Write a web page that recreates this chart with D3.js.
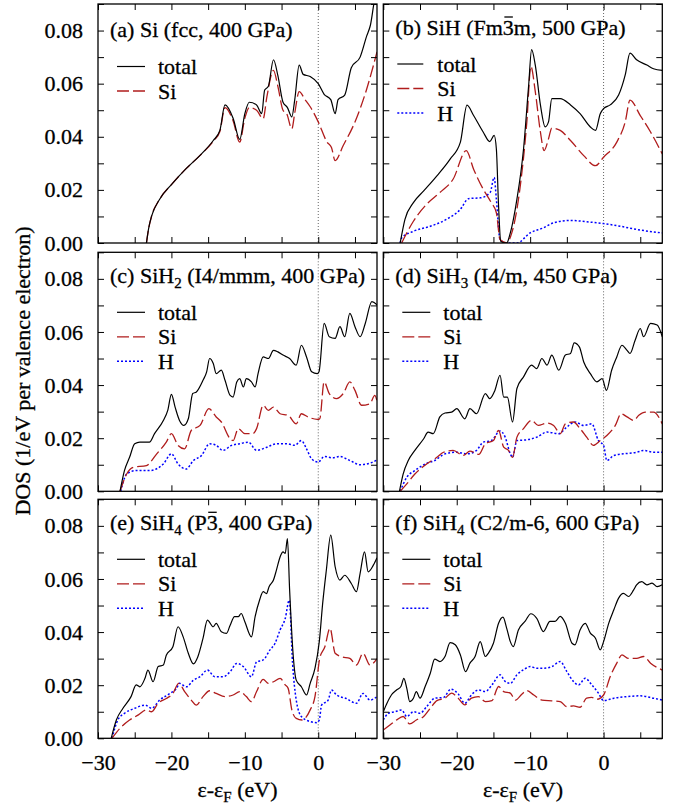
<!DOCTYPE html>
<html>
<head>
<meta charset="utf-8">
<script src="https://cdn.jsdelivr.net/npm/d3@7"></script>
<style>
  body { margin: 0; background: #fff; }
  svg text { font-family: "Liberation Serif", "Times New Roman", serif; font-size: 22px; fill: #000; stroke: #000; stroke-width: 0.3px; }
</style>
</head>
<body>
<svg id="chart" width="678" height="809"></svg>
<script>
// axis settings
var energyTicks = [-30, -25, -20, -15, -10, -5, 0, 5];
var energyLabels = [-30, -20, -10, 0];
var dosTicks = [0, 0.01, 0.02, 0.03, 0.04, 0.05, 0.06, 0.07, 0.08, 0.09];
var dosLabels = [0, 0.02, 0.04, 0.06, 0.08];

// (a) Si fcc 400 GPa  -- [energy (eV), DOS]
var aTotal = [[-23.4,0],[-23.1,0.0055],[-22.7,0.0101],[-21.6,0.0165],[-20,0.022],[-18,0.028],[-16.1,0.033],[-14.3,0.0386],[-13.4,0.0424],[-12.7,0.052],[-11.6,0.047],[-10.7,0.039],[-10,0.0487],[-9.4,0.053],[-8.4,0.052],[-7.7,0.0487],[-7.3,0.0576],[-6.8,0.059],[-6.1,0.069],[-5.5,0.063],[-4.8,0.053],[-4.2,0.051],[-3.6,0.0475],[-3.2,0.054],[-2.6,0.067],[-2.05,0.0635],[-1.1,0.0627],[0,0.060],[0.8,0.056],[1.7,0.054],[2.3,0.0487],[2.7,0.054],[3.6,0.0557],[4.5,0.066],[5.7,0.070],[6.6,0.078],[7.1,0.082],[7.7,0.092],[8,0.095]];
var aSi = [[-23.4,0],[-23.1,0.0055],[-22.7,0.0101],[-21.6,0.0165],[-20,0.022],[-18,0.028],[-16.1,0.033],[-14.3,0.0383],[-13.4,0.042],[-12.7,0.051],[-11.6,0.046],[-10.7,0.038],[-10,0.047],[-9.4,0.051],[-8.4,0.050],[-7.5,0.0468],[-7.0,0.055],[-6.1,0.065],[-5.5,0.059],[-4.8,0.050],[-4.3,0.0487],[-3.6,0.043],[-3.2,0.049],[-2.6,0.057],[-1.8,0.054],[-1.1,0.0513],[0,0.0456],[1.2,0.038],[1.8,0.036],[2.3,0.031],[3.4,0.0367],[5,0.0456],[6.6,0.058],[8,0.072]];

// (b) SiH Fm-3m 500 GPa
var bTotal = [[-27.7,0],[-27.05,0.0089],[-25.9,0.0152],[-24.5,0.0196],[-22.7,0.0253],[-20.9,0.0316],[-19.5,0.038],[-18.6,0.0519],[-17.7,0.048],[-16.4,0.0418],[-15.5,0.0382],[-14.9,0.0405],[-14.6,0.0354],[-14.3,0.0139],[-14.0,0.0006],[-13.2,0],[-12.7,0.0038],[-11.8,0.0165],[-10.9,0.0354],[-10.2,0.0595],[-9.8,0.0728],[-9.3,0.067],[-8.6,0.052],[-7.95,0.0437],[-7.5,0.0456],[-7.05,0.0544],[-5.9,0.0544],[-4.5,0.052],[-3.2,0.0487],[-1.8,0.0437],[-1.1,0.0424],[-0.45,0.0487],[0,0.0506],[0.9,0.052],[2.05,0.0557],[2.95,0.0633],[3.6,0.0715],[4.5,0.069],[5.9,0.067],[6.8,0.0656],[8,0.065]];
var bSi = [[-27.5,0],[-25.9,0.0082],[-24.1,0.0146],[-22.3,0.019],[-20.5,0.024],[-18.7,0.0348],[-17.7,0.0278],[-16.4,0.0203],[-15.3,0.0152],[-14.6,0.0114],[-14.1,0.0013],[-13.2,0],[-12.5,0.0038],[-11.4,0.0203],[-10.45,0.0456],[-9.9,0.0665],[-9.3,0.057],[-8.6,0.0418],[-8.1,0.0348],[-7.5,0.0392],[-7.05,0.0433],[-5.9,0.0424],[-4.5,0.0386],[-2.7,0.0329],[-1.1,0.0291],[0,0.0323],[1.8,0.038],[2.95,0.0456],[3.6,0.0538],[5,0.048],[6.4,0.0418],[8,0.0335]];
var bH = [[-27.7,0],[-27.5,0.0019],[-25.9,0.0044],[-23.6,0.0063],[-21.4,0.0089],[-19.5,0.0127],[-18.4,0.0167],[-16.8,0.017],[-15.45,0.019],[-14.9,0.0247],[-14.6,0.0165],[-14.1,0.0013],[-13.2,0],[-11.8,0],[-10,0.0038],[-8.2,0.0057],[-6.8,0.0076],[-4.5,0.0085],[-2.3,0.008],[0,0.0073],[2.3,0.0063],[4.5,0.0051],[8,0.0038]];

// (c) SiH2 I4/mmm 400 GPa
var cTotal = [[-27,0],[-26.4,0.0078],[-25.7,0.0128],[-25,0.0179],[-24.3,0.0185],[-23,0.0185],[-22.3,0.0217],[-21.1,0.0267],[-20.5,0.0305],[-20,0.0365],[-19.5,0.0317],[-18.9,0.0267],[-18.3,0.0248],[-17.7,0.0273],[-17.1,0.0368],[-16.6,0.0374],[-15.7,0.0418],[-15.2,0.045],[-14.8,0.05],[-14.3,0.0481],[-13.9,0.0443],[-13.2,0.0456],[-12.7,0.0418],[-12,0.0361],[-11.6,0.0355],[-11.1,0.0412],[-10.7,0.0424],[-10.2,0.0393],[-9.8,0.0424],[-9.1,0.0412],[-8.6,0.0393],[-8.2,0.0443],[-7.5,0.0506],[-6.8,0.05],[-6.1,0.0531],[-5.5,0.0525],[-4.8,0.0513],[-3.9,0.05],[-3,0.0475],[-2.3,0.055],[-1.6,0.0506],[-0.9,0.045],[-0.14,0.0443],[0.1,0.045],[0.8,0.0632],[1.5,0.0582],[2.3,0.0576],[2.95,0.062],[3.6,0.0582],[4.3,0.067],[5,0.062],[5.7,0.0582],[6.4,0.0632],[7.3,0.0714],[8,0.0702]];
var cSi = [[-27,0],[-26.1,0.0065],[-25.2,0.009],[-23.4,0.0097],[-22,0.0141],[-20.7,0.0185],[-20,0.0217],[-19.1,0.0173],[-18.2,0.016],[-17.3,0.0229],[-16.1,0.0248],[-14.9,0.0311],[-13.9,0.028],[-13.2,0.0261],[-12,0.0198],[-11.6,0.0191],[-10.9,0.0236],[-10,0.0217],[-8.9,0.0217],[-8.4,0.0236],[-7.5,0.0324],[-6.8,0.0305],[-6.1,0.0317],[-5.2,0.0292],[-4.1,0.0286],[-3,0.0254],[-2.3,0.0292],[-1.4,0.028],[-0.14,0.0271],[0.2,0.0273],[0.8,0.0412],[1.5,0.0368],[2.5,0.0349],[3.4,0.0368],[4.3,0.0412],[5,0.038],[5.9,0.0324],[7.05,0.033],[7.7,0.0361],[8,0.034]];
var cH = [[-26.9,0],[-26.1,0.0065],[-24.8,0.0078],[-23,0.0078],[-21.1,0.0103],[-20,0.0141],[-19.1,0.0103],[-18,0.0084],[-17,0.0116],[-15.9,0.0135],[-14.8,0.0179],[-13.9,0.0173],[-13,0.0154],[-11.8,0.0173],[-10.7,0.0179],[-9.5,0.0185],[-8.4,0.0154],[-7,0.0166],[-5.7,0.0179],[-4.3,0.0179],[-3.2,0.0173],[-2.3,0.0191],[-1.6,0.016],[-0.9,0.0122],[0,0.011],[0.8,0.0131],[2,0.0126],[2.95,0.0131],[4.3,0.0116],[5.7,0.01],[7.05,0.0106],[8,0.0118]];

// (d) SiH3 I4/m 450 GPa
var dTotal = [[-27.8,0],[-27.3,0.0065],[-26.6,0.0116],[-25.7,0.0154],[-24.5,0.0198],[-23.9,0.0223],[-23.2,0.0217],[-22.3,0.028],[-21.6,0.0295],[-20.7,0.0298],[-20,0.0311],[-18.9,0.0273],[-18.2,0.0311],[-17.3,0.0292],[-16.1,0.0368],[-15.5,0.0349],[-14.8,0.038],[-14.1,0.0437],[-13.6,0.0355],[-13.1,0.0355],[-12.4,0.0261],[-11.8,0.0387],[-10.9,0.0431],[-9.8,0.0475],[-9.1,0.0462],[-8.4,0.05],[-7.7,0.0475],[-7.05,0.0513],[-6.1,0.0456],[-5.2,0.0513],[-4.5,0.0519],[-4,0.0559],[-3.3,0.0544],[-2.7,0.0487],[-1.8,0.0443],[-0.9,0.0412],[-0.2,0.0424],[0.4,0.038],[1.1,0.0456],[1.8,0.0506],[2.5,0.055],[3.2,0.0531],[3.6,0.0519],[4.3,0.0569],[5,0.0613],[5.45,0.0582],[6.4,0.0632],[7.3,0.0626],[8,0.0582]];
var dSi = [[-27.7,0],[-26.8,0.0028],[-25.7,0.0065],[-24.1,0.0103],[-22.7,0.0128],[-21.8,0.0147],[-20.5,0.0154],[-19.1,0.0135],[-18.2,0.0151],[-17,0.0139],[-16.1,0.0179],[-15,0.0191],[-14.3,0.0229],[-13.6,0.0166],[-12.95,0.0154],[-12.4,0.0128],[-11.8,0.0204],[-10.9,0.0236],[-9.8,0.0267],[-8.9,0.0248],[-7.7,0.0257],[-6.8,0.0248],[-5.9,0.0217],[-5.2,0.0254],[-4.1,0.0261],[-3.2,0.0236],[-2.3,0.0204],[-1.4,0.0173],[-0.45,0.0191],[0.45,0.021],[1.6,0.0248],[2.4,0.0292],[3.2,0.028],[4.1,0.0267],[4.8,0.0286],[5.7,0.0298],[6.8,0.0298],[8,0.0254]];
var dH = [[-27.7,0],[-26.8,0.0053],[-25.7,0.0078],[-24.3,0.0103],[-23,0.0116],[-21.6,0.0141],[-20,0.0147],[-18.6,0.0141],[-17.3,0.0154],[-16.4,0.0185],[-15.3,0.0191],[-14.1,0.0227],[-13.4,0.0204],[-12.7,0.0141],[-12.4,0.0128],[-11.8,0.0191],[-10.45,0.0194],[-9.1,0.0204],[-7.7,0.0223],[-6.1,0.0217],[-5,0.0242],[-3.9,0.0261],[-2.7,0.0248],[-1.6,0.0254],[-0.7,0.0191],[0,0.0173],[0.45,0.0116],[1.4,0.0135],[2.7,0.0141],[4.5,0.0147],[5.45,0.0154],[6.8,0.0147],[8,0.0147]];

// (e) SiH4 P-3 400 GPa
var eTotal = [[-28.2,0],[-27.5,0.0069],[-26.6,0.0113],[-25.5,0.0157],[-24.8,0.0201],[-24.3,0.0194],[-23.6,0.0226],[-23.2,0.0257],[-22.5,0.0213],[-21.8,0.027],[-21.1,0.0276],[-20.7,0.0313],[-19.8,0.0345],[-19.1,0.042],[-18.4,0.0382],[-17.7,0.032],[-17,0.028],[-16.4,0.0307],[-15.7,0.0376],[-15.1,0.0445],[-14.3,0.042],[-13.9,0.0433],[-13.2,0.0401],[-12.5,0.0395],[-12,0.0426],[-11.4,0.0458],[-10.9,0.0458],[-10.5,0.047],[-10,0.0439],[-9.1,0.0382],[-8.6,0.0458],[-8,0.052],[-7.5,0.0552],[-7.05,0.0545],[-6.7,0.0571],[-6.1,0.0596],[-5.7,0.0633],[-5.2,0.0683],[-4.8,0.0702],[-4.5,0.0696],[-4.2,0.0752],[-3.9,0.0558],[-3.4,0.0307],[-3,0.0219],[-2.3,0.0194],[-1.6,0.0163],[-1.1,0.0207],[-0.45,0.0263],[0.14,0.0364],[0.6,0.0508],[1.1,0.0633],[1.7,0.0765],[2.3,0.0646],[2.95,0.0596],[3.6,0.0614],[4.5,0.0583],[5.2,0.0552],[5.7,0.0621],[6.3,0.0702],[6.8,0.0627],[7.5,0.0652],[8,0.068]];
var eSi = [[-28.1,0],[-27,0.0038],[-25.7,0.0069],[-24.5,0.0088],[-23.4,0.0107],[-22.7,0.01],[-21.8,0.0132],[-20.7,0.015],[-19.8,0.0169],[-19,0.0207],[-18.2,0.0176],[-17.3,0.0144],[-16.6,0.0125],[-15.7,0.0157],[-14.8,0.0179],[-13.9,0.0169],[-12.7,0.0157],[-11.6,0.0163],[-10.7,0.0176],[-9.8,0.0157],[-9.1,0.0138],[-8.4,0.0176],[-7.5,0.0222],[-6.8,0.0207],[-6.1,0.0213],[-5.2,0.0226],[-4.5,0.0201],[-4.1,0.0188],[-3.6,0.0107],[-3,0.0075],[-2.2,0.0069],[-1.1,0.0107],[-0.45,0.0157],[0.2,0.0301],[0.9,0.0345],[1.6,0.0414],[2.3,0.032],[3.2,0.0307],[4.3,0.0301],[5.2,0.0276],[6.1,0.032],[7.05,0.0276],[8,0.03]];
var eH = [[-28.1,0],[-27.3,0.0069],[-26.4,0.0094],[-25,0.0113],[-23.6,0.0125],[-22.7,0.0113],[-21.6,0.0144],[-20.2,0.0169],[-19.3,0.0188],[-18.9,0.0207],[-17.95,0.0194],[-17,0.0219],[-16.1,0.0232],[-15.1,0.0257],[-14.1,0.0232],[-12.95,0.0232],[-12,0.0251],[-11.1,0.0282],[-10.2,0.027],[-9.1,0.0232],[-8.4,0.0288],[-7.5,0.0295],[-6.6,0.0332],[-5.9,0.0357],[-5.2,0.0408],[-4.5,0.0451],[-3.95,0.052],[-3.5,0.0282],[-3,0.0144],[-2.3,0.0082],[-1.1,0.0063],[-0.2,0.0059],[0.14,0.0069],[0.45,0.0125],[1.35,0.0144],[1.8,0.0182],[2.5,0.0163],[3.8,0.015],[5.2,0.0132],[6.1,0.0169],[7.05,0.0144],[8,0.0157]];

// (f) SiH4 C2/m-6 600 GPa
var fTotal = [[-30,0.01],[-29.5,0.0132],[-28.9,0.0163],[-28.2,0.0182],[-27.6,0.0195],[-27.2,0.0226],[-26.8,0.0188],[-26.4,0.0138],[-25.9,0.0151],[-25.5,0.0176],[-25,0.0151],[-24.3,0.0195],[-23.6,0.0245],[-23,0.0298],[-22.3,0.0289],[-21.6,0.0308],[-20.9,0.036],[-20.2,0.0352],[-19.5,0.0314],[-18.8,0.0251],[-18.2,0.0283],[-17.5,0.0308],[-16.8,0.0364],[-16.1,0.0308],[-15.7,0.032],[-15,0.0358],[-14.3,0.0433],[-13.7,0.0456],[-13.2,0.0415],[-12.7,0.0364],[-12.3,0.0345],[-11.6,0.0408],[-10.7,0.044],[-9.9,0.0469],[-9.1,0.0452],[-8.2,0.0402],[-7.3,0.044],[-6.6,0.044],[-5.9,0.0459],[-5.2,0.0433],[-4.3,0.0358],[-3.9,0.0352],[-3.2,0.0408],[-2.5,0.0433],[-1.8,0.0396],[-1.1,0.0377],[-0.45,0.0333],[0,0.0364],[0.7,0.0433],[1.4,0.0484],[2.05,0.0528],[2.7,0.0546],[3.4,0.0534],[4.1,0.0559],[4.5,0.0578],[5.2,0.059],[5.9,0.0578],[6.6,0.0584],[7.3,0.0571],[8,0.0578]];
var fSi = [[-30,0.0031],[-29.1,0.005],[-28.2,0.0069],[-27.3,0.0082],[-26.4,0.0054],[-25.5,0.0069],[-24.5,0.0082],[-23.6,0.0113],[-22.7,0.0142],[-21.6,0.0151],[-20.7,0.017],[-19.8,0.0151],[-18.9,0.0126],[-18,0.0151],[-17.05,0.0157],[-16.1,0.0138],[-15.2,0.0142],[-14.3,0.0195],[-13.6,0.0176],[-12.7,0.017],[-12,0.0144],[-11.1,0.0167],[-10.45,0.018],[-9.5,0.0163],[-8.4,0.0144],[-7.05,0.0141],[-5.9,0.0138],[-5,0.0119],[-4.1,0.0122],[-3.2,0.0117],[-2.3,0.0151],[-1.6,0.0154],[-0.9,0.0147],[0,0.0163],[0.9,0.0232],[1.8,0.0283],[2.5,0.0314],[3.4,0.0301],[4.5,0.0301],[5.45,0.0308],[6.4,0.0283],[8,0.0257]];
var fH = [[-30,0.0069],[-29.3,0.0094],[-28.4,0.01],[-27.5,0.0107],[-26.8,0.0082],[-25.9,0.01],[-25,0.0094],[-24.1,0.0119],[-23,0.0151],[-21.8,0.0154],[-20.8,0.0185],[-19.8,0.0167],[-18.9,0.0132],[-18,0.0163],[-17.05,0.0182],[-16.1,0.0176],[-15.2,0.0201],[-14.1,0.0239],[-13.4,0.0214],[-12.7,0.0207],[-11.8,0.0239],[-10.9,0.0258],[-10,0.027],[-9.1,0.0264],[-8.2,0.0264],[-7.05,0.027],[-5.9,0.0289],[-5,0.0251],[-4.1,0.0214],[-3.4,0.0201],[-2.5,0.0226],[-1.6,0.0201],[-0.7,0.017],[0,0.0142],[1.4,0.0151],[3.2,0.0157],[5,0.016],[6.8,0.0151],[8,0.0144]];

// panel titles: [text, "sub" | "bar" | undefined]
var titles = [
  [["(a) Si (fcc, 400 GPa)"]],
  [["(b) SiH (Fm"], ["3", "bar"], ["m, 500 GPa)"]],
  [["(c) SiH"], ["2", "sub"], [" (I4/mmm, 400 GPa)"]],
  [["(d) SiH"], ["3", "sub"], [" (I4/m, 450 GPa)"]],
  [["(e) SiH"], ["4", "sub"], [" (P"], ["3", "bar"], [", 400 GPa)"]],
  [["(f) SiH"], ["4", "sub"], [" (C2/m-6, 600 GPa)"]]
];

var styles = {
  total: { color: "#000000", width: 1.2, dash: null },
  Si:    { color: "#b01c1c", width: 1.3, dash: "12,4" },
  H:     { color: "#0000ff", width: 1.5, dash: "2,2" }
};

var panels = [
  { series: [["total", aTotal], ["Si", aSi]] },
  { series: [["total", bTotal], ["Si", bSi], ["H", bH]] },
  { series: [["total", cTotal], ["Si", cSi], ["H", cH]] },
  { series: [["total", dTotal], ["Si", dSi], ["H", dH]] },
  { series: [["total", eTotal], ["Si", eSi], ["H", eH]] },
  { series: [["total", fTotal], ["Si", fSi], ["H", fH]] }
];

var colLeft = [98, 383.3];
var rowTop = [4, 252.3, 499.3];
var panelW = 279, panelH = 239;

var svg = d3.select("#chart");

var x = d3.scaleLinear().domain([-30, 8]).range([0, panelW]);
var y = d3.scaleLinear().domain([0, 0.09]).range([panelH, 0]);
var line = d3.line().x(d => x(d[0])).y(d => y(d[1])).curve(d3.curveMonotoneX);

// text with subscripts built from tspans; "bar" parts get a short line drawn over them
function addText(g, sel, parts, baseY) {
  var wasSub = false, bars = [];
  parts.forEach(function(p) {
    var t = sel.append("tspan").text(p[0]);
    if (wasSub) t.attr("dy", -5);
    wasSub = false;
    if (p[1] === "sub") { t.attr("dy", 5).style("font-size", "15px"); wasSub = true; }
    if (p[1] === "bar") bars.push(t.node());
  });
  bars.forEach(function(node) {
    var b = node.getBBox();
    g.append("line")
      .attr("x1", b.x + 1.5).attr("x2", b.x + b.width - 1)
      .attr("y1", baseY - 18).attr("y2", baseY - 18)
      .attr("stroke", "#000").attr("stroke-width", 1.3);
  });
}

panels.forEach(function(p, i) {
  var col = i % 2, row = Math.floor(i / 2);
  var g = svg.append("g")
    .attr("transform", `translate(${colLeft[col]},${rowTop[row]})`);

  g.append("clipPath").attr("id", "clip" + i)
    .append("rect").attr("width", panelW).attr("height", panelH);

  // Fermi level
  g.append("line")
    .attr("x1", x(0)).attr("x2", x(0))
    .attr("y1", 0).attr("y2", panelH)
    .attr("stroke", "#666").attr("stroke-width", 1)
    .attr("stroke-dasharray", "1,2");

  // curves
  var curves = g.append("g").attr("clip-path", `url(#clip${i})`);
  p.series.slice().reverse().forEach(function(s) {
    var st = styles[s[0]];
    curves.append("path")
      .datum(s[1])
      .attr("d", line)
      .attr("fill", "none")
      .attr("stroke", st.color)
      .attr("stroke-width", st.width)
      .attr("stroke-dasharray", st.dash)
      .attr("stroke-linejoin", "round");
  });

  // inward ticks on all four sides
  var axes = [
    [d3.axisBottom(x).tickValues(energyTicks), `translate(0,${panelH})`],
    [d3.axisTop(x).tickValues(energyTicks), "translate(0,0)"],
    [d3.axisLeft(y).tickValues(dosTicks), "translate(0,0)"],
    [d3.axisRight(y).tickValues(dosTicks), `translate(${panelW},0)`]
  ];
  axes.forEach(function(a) {
    var ax = g.append("g").attr("transform", a[1])
      .call(a[0].tickSize(-6).tickFormat(""));
    ax.select(".domain").remove();
    ax.selectAll("line").attr("stroke-width", 1);
  });

  // tick labels
  if (col === 0) {
    var yl = g.append("g")
      .call(d3.axisLeft(y).tickValues(dosLabels).tickSize(0).tickPadding(15).tickFormat(d3.format(".2f")));
    yl.select(".domain").remove();
    yl.attr("font-size", null).attr("font-family", null);
  }
  if (row === 2) {
    var xl = g.append("g").attr("transform", `translate(0,${panelH})`)
      .call(d3.axisBottom(x).tickValues(energyLabels).tickSize(0).tickPadding(16.4).tickFormat(d3.format("d")));
    xl.select(".domain").remove();
    xl.attr("font-size", null).attr("font-family", null);
  }

  // frame
  g.append("rect")
    .attr("width", panelW).attr("height", panelH)
    .attr("fill", "none").attr("stroke", "#000").attr("stroke-width", 1.3);

  // title
  var ty = i === 0 ? 33 : 31;
  var title = g.append("text").attr("x", 12).attr("y", ty);
  addText(g, title, titles[i], ty);

  // legend
  var lx0 = i === 1 ? 14 : 19, lx1 = i === 1 ? 40 : 47, tx = i === 1 ? 54 : 60;
  p.series.forEach(function(s, k) {
    var st = styles[s[0]];
    var ly = (i === 0 ? 62.5 : 60) + k * 24.5;
    g.append("line")
      .attr("x1", lx0).attr("x2", lx1).attr("y1", ly).attr("y2", ly)
      .attr("stroke", st.color).attr("stroke-width", st.width)
      .attr("stroke-dasharray", st.dash);
    g.append("text").attr("x", tx).attr("y", ly + 7.5).text(s[0]);
  });
});

// axis titles
svg.append("text")
  .attr("transform", "translate(30,371) rotate(-90)")
  .attr("text-anchor", "middle")
  .text("DOS (1/eV per valence electron)");

[237.5, 523].forEach(function(cx) {
  var t = svg.append("text").attr("x", cx).attr("y", 797).attr("text-anchor", "middle");
  addText(svg, t, [["\u03b5-\u03b5"], ["F", "sub"], [" (eV)"]], 797);
});
</script>
</body>
</html>
